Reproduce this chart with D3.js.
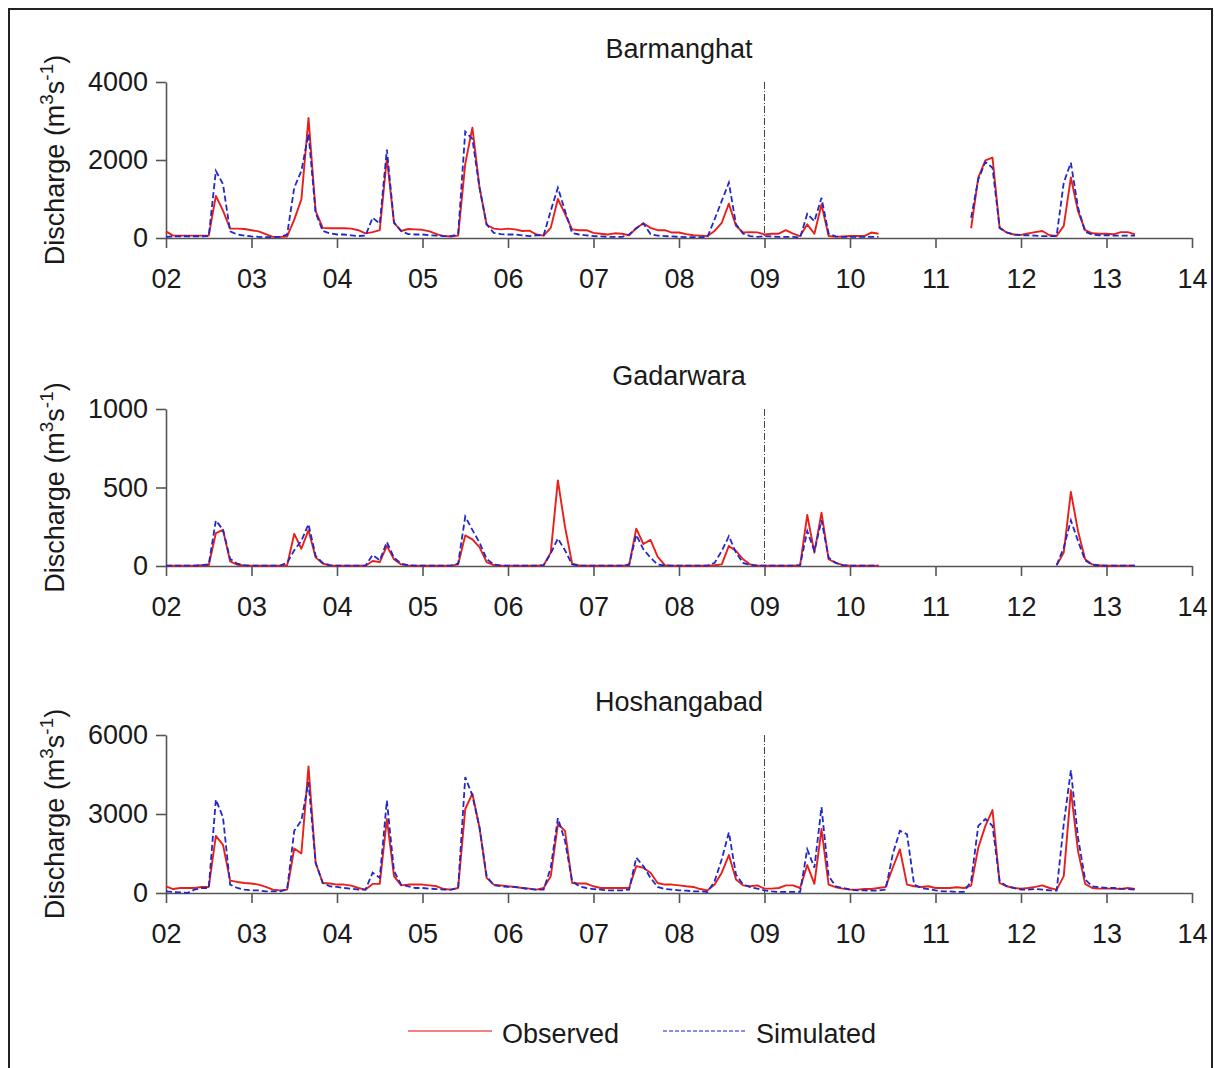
<!DOCTYPE html>
<html>
<head>
<meta charset="utf-8">
<script src="https://cdn.jsdelivr.net/npm/d3@7"></script>
<style>
  html, body { margin: 0; padding: 0; background: #fff; }
  svg { display: block; }
  text { font-family: "Liberation Sans", Arial, sans-serif; fill: #1a1a1a; }
</style>
</head>
<body>
<svg id="chart" width="1214" height="1068"></svg>
<script>
// ---------------- DATA (monthly, Jan 2002 .. May 2013) ----------------
const startYear = 2002;
const yearTicks = [2002, 2003, 2004, 2005, 2006, 2007, 2008, 2009, 2010, 2011, 2012, 2013, 2014];
const stations = ["Barmanghat", "Gadarwara", "Hoshangabad"];
const seriesNames = ["Observed", "Simulated"];
const calibrationSplit = 2009;
const N = null;

const barmanghatObs = [
  170, 60, 60, 60, 60, 60, 60, 1080, 700, 240, 240, 230,        // 2002
  200, 170, 100, 30, 30, 40, 470, 990, 3077, 690, 260, 250,     // 2003
  250, 250, 240, 200, 120, 150, 200, 2050, 390, 180, 230, 220,  // 2004
  210, 170, 100, 50, 40, 60, 1900, 2830, 1300, 340, 240, 220,   // 2005
  240, 220, 180, 190, 90, 60, 260, 1000, 620, 220, 200, 200,    // 2006
  130, 110, 90, 120, 110, 70, 250, 380, 260, 200, 200, 140,     // 2007
  140, 100, 70, 60, 50, 180, 390, 880, 310, 140, 150, 145,      // 2008
  90, 110, 110, 200, 110, 50, 350, 110, 860, 50, 30, 40,        // 2009
  50, 50, 50, 140, 110, N, N, N, N, N, N, N,                    // 2010
  N, N, N, N, N, 250, 1550, 1990, 2060, 260, 140, 90,           // 2011
  80, 120, 150, 180, 70, 50, 310, 1550, 690, 200, 120, 110,     // 2012
  110, 95, 150, 150, 95                                          // 2013
];
const barmanghatSim = [
  30, 40, 45, 45, 45, 45, 50, 1720, 1380, 170, 90, 60,
  40, 30, 20, 20, 30, 90, 1290, 1720, 2670, 650, 180, 120,
  90, 90, 70, 50, 60, 520, 370, 2270, 400, 180, 100, 90,
  90, 70, 60, 50, 50, 90, 2730, 2540, 1290, 350, 130, 100,
  90, 90, 70, 50, 70, 70, 700, 1290, 700, 130, 90, 70,
  50, 40, 30, 30, 30, 90, 250, 370, 100, 60, 50, 40,
  30, 25, 20, 20, 30, 480, 950, 1420, 350, 110, 50, 30,
  50, 40, 30, 30, 30, 10, 620, 430, 1030, 110, 40, 30,
  30, 30, 30, 30, 30, N, N, N, N, N, N, N,
  N, N, N, N, N, 520, 1500, 1950, 1800, 260, 140, 90,
  70, 70, 60, 50, 50, 50, 1420, 1930, 780, 160, 90, 70,
  70, 60, 60, 60, 60
];
const gadarwaraObs = [
  2, 2, 2, 2, 2, 5, 5, 210, 230, 30, 8, 3,
  2, 2, 2, 2, 2, 5, 205, 110, 228, 55, 15, 3,
  2, 2, 2, 2, 2, 32, 25, 128, 43, 10, 3, 2,
  2, 2, 2, 2, 2, 10, 195, 170, 120, 25, 6, 2,
  2, 2, 2, 2, 2, 5, 85, 545, 250, 15, 3, 2,
  2, 2, 2, 2, 2, 5, 238, 140, 166, 60, 5, 2,
  2, 2, 2, 2, 2, 5, 10, 128, 96, 43, 10, 2,
  2, 2, 2, 2, 2, 5, 325, 85, 340, 43, 20, 5,
  2, 2, 2, 2, 2, N, N, N, N, N, N, N,
  N, N, N, N, N, N, N, N, N, N, N, N,
  N, N, N, N, N, 5, 85, 472, 223, 43, 10, 5,
  2, 2, 2, 2, 2
];
const gadarwaraSim = [
  2, 2, 2, 2, 2, 5, 10, 290, 230, 45, 15, 5,
  2, 2, 2, 2, 2, 20, 100, 160, 266, 64, 20, 5,
  2, 2, 2, 2, 2, 70, 36, 153, 53, 15, 5, 2,
  2, 2, 2, 2, 2, 15, 315, 230, 150, 45, 10, 3,
  2, 2, 2, 2, 2, 5, 80, 175, 100, 10, 3, 2,
  2, 2, 2, 2, 2, 10, 198, 106, 53, 10, 3, 2,
  2, 2, 2, 2, 2, 20, 96, 190, 85, 20, 6, 2,
  2, 2, 2, 2, 2, 5, 223, 96, 291, 53, 20, 5,
  2, 2, 2, 2, 2, N, N, N, N, N, N, N,
  N, N, N, N, N, N, N, N, N, N, N, N,
  N, N, N, N, N, 5, 117, 291, 160, 36, 8, 3,
  2, 2, 2, 2, 2
];
const hoshangabadObs = [
  255, 150, 190, 190, 190, 230, 230, 2170, 1830, 470, 420, 380,
  360, 320, 230, 130, 100, 130, 1690, 1500, 4810, 1150, 380, 360,
  320, 320, 280, 190, 130, 345, 345, 2810, 640, 290, 320, 320,
  320, 290, 255, 150, 130, 190, 3190, 3770, 2490, 575, 320, 290,
  255, 230, 190, 165, 130, 190, 640, 2620, 2360, 380, 360, 360,
  255, 190, 190, 190, 190, 190, 1020, 960, 770, 380, 320, 320,
  290, 255, 230, 150, 100, 320, 770, 1440, 510, 290, 255, 290,
  165, 165, 190, 290, 290, 190, 1060, 345, 2430, 320, 220, 165,
  130, 130, 150, 150, 190, 230, 960, 1660, 320, 255, 230, 255,
  190, 190, 190, 220, 190, 280, 1720, 2550, 3150, 380, 255, 190,
  165, 190, 230, 290, 190, 130, 640, 3900, 1600, 345, 190, 165,
  165, 165, 150, 190, 150
];
const hoshangabadSim = [
  65, 40, 25, 0, 130, 190, 190, 3550, 2870, 320, 190, 130,
  100, 100, 65, 65, 65, 130, 2360, 2750, 4210, 1150, 380, 255,
  230, 190, 165, 130, 130, 770, 575, 3510, 830, 320, 255, 190,
  190, 165, 150, 130, 130, 190, 4400, 3700, 2490, 640, 290, 255,
  230, 230, 190, 150, 130, 130, 960, 2840, 1980, 450, 255, 190,
  150, 130, 100, 100, 100, 130, 1340, 1020, 575, 230, 150, 130,
  100, 90, 65, 65, 40, 450, 1280, 2300, 700, 320, 220, 165,
  100, 65, 40, 40, 40, 40, 1660, 960, 3260, 640, 255, 190,
  130, 100, 100, 90, 90, 130, 1470, 2360, 2230, 320, 190, 150,
  100, 65, 65, 40, 40, 450, 2550, 2810, 2550, 450, 255, 190,
  130, 130, 150, 130, 100, 90, 2620, 4660, 2110, 510, 255, 220,
  190, 190, 165, 150, 130
];
const yTicksBarmanghat = [0, 2000, 4000];
const yTicksGadarwara = [0, 500, 1000];
const yTicksHoshangabad = [0, 3000, 6000];

// ---------------- LAYOUT ----------------
const panels = [
  { name: stations[0], obs: barmanghatObs, sim: barmanghatSim, ticks: yTicksBarmanghat, top: 82, bottom: 238 },
  { name: stations[1], obs: gadarwaraObs, sim: gadarwaraSim, ticks: yTicksGadarwara, top: 409, bottom: 566 },
  { name: stations[2], obs: hoshangabadObs, sim: hoshangabadSim, ticks: yTicksHoshangabad, top: 735, bottom: 893 }
];
const plotLeft = 166, plotRight = 1192;
const fontSize = 27;
const obsColor = "#e8201c", simColor = "#2128c8", axisColor = "#555";

const svg = d3.select("#chart");
svg.append("rect").attr("x", 9).attr("y", 9).attr("width", 1203).attr("height", 1075)
  .attr("fill", "none").attr("stroke", "#222").attr("stroke-width", 2);

const x = d3.scaleLinear().domain([yearTicks[0], yearTicks[yearTicks.length - 1]]).range([plotLeft, plotRight]);
const xOf = i => x(startYear + i / 12);

panels.forEach(p => {
  const y = d3.scaleLinear().domain([0, d3.max(p.ticks)]).range([p.bottom, p.top]);
  const g = svg.append("g");

  // x axis
  const xa = g.append("g").attr("transform", `translate(0,${p.bottom})`)
    .call(d3.axisBottom(x).tickValues(yearTicks).tickSize(10).tickSizeOuter(0).tickPadding(21)
      .tickFormat(d => d3.format("02d")(d % 100)));
  // y axis
  const ya = g.append("g").attr("transform", `translate(${plotLeft},0)`)
    .call(d3.axisLeft(y).tickValues(p.ticks).tickSize(10).tickSizeOuter(0).tickPadding(8)
      .tickFormat(d3.format("d")));
  [xa, ya].forEach(a => {
    a.selectAll("path, line").attr("stroke", axisColor).attr("stroke-width", 1.6);
    a.selectAll("text").attr("font-size", fontSize).attr("fill", "#1a1a1a")
      .attr("font-family", '"Liberation Sans", Arial, sans-serif');
  });

  // split line
  g.append("line").attr("x1", x(calibrationSplit)).attr("x2", x(calibrationSplit))
    .attr("y1", y(d3.max(p.ticks))).attr("y2", p.bottom)
    .attr("stroke", "#444").attr("stroke-width", 1).attr("stroke-dasharray", "7,2,1,2");

  const line = d3.line().defined(d => d != null).x((d, i) => xOf(i)).y(d => y(d));
  g.append("path").datum(p.obs).attr("d", line).attr("fill", "none")
    .attr("stroke", obsColor).attr("stroke-width", 1.9).attr("stroke-linejoin", "round");
  g.append("path").datum(p.sim).attr("d", line).attr("fill", "none")
    .attr("stroke", simColor).attr("stroke-width", 1.8).attr("stroke-dasharray", "6,3");

  // title
  g.append("text").attr("x", (plotLeft + plotRight) / 2).attr("y", p.top - 24)
    .attr("text-anchor", "middle").attr("font-size", fontSize).text(p.name);

  // y label
  const lab = g.append("text").attr("transform", `translate(64,${(p.top + p.bottom) / 2}) rotate(-90)`)
    .attr("text-anchor", "middle").attr("font-size", fontSize);
  lab.append("tspan").text("Discharge (m");
  lab.append("tspan").attr("font-size", fontSize * 0.7).attr("dy", -11).text("3");
  lab.append("tspan").attr("dy", 11).text("s");
  lab.append("tspan").attr("font-size", fontSize * 0.7).attr("dy", -11).text("-1");
  lab.append("tspan").attr("dy", 11).text(")");
});

// legend
const leg = svg.append("g");
leg.append("line").attr("x1", 408).attr("x2", 492).attr("y1", 1031).attr("y2", 1031)
  .attr("stroke", obsColor).attr("stroke-width", 1.4).attr("opacity", 0.75);
leg.append("text").attr("x", 502).attr("y", 1043).attr("font-size", fontSize).text(seriesNames[0]);
leg.append("line").attr("x1", 663).attr("x2", 745).attr("y1", 1031).attr("y2", 1031)
  .attr("stroke", simColor).attr("stroke-width", 1.4).attr("opacity", 0.7).attr("stroke-dasharray", "4,2");
leg.append("text").attr("x", 756).attr("y", 1043).attr("font-size", fontSize).text(seriesNames[1]);
</script>
</body>
</html>
